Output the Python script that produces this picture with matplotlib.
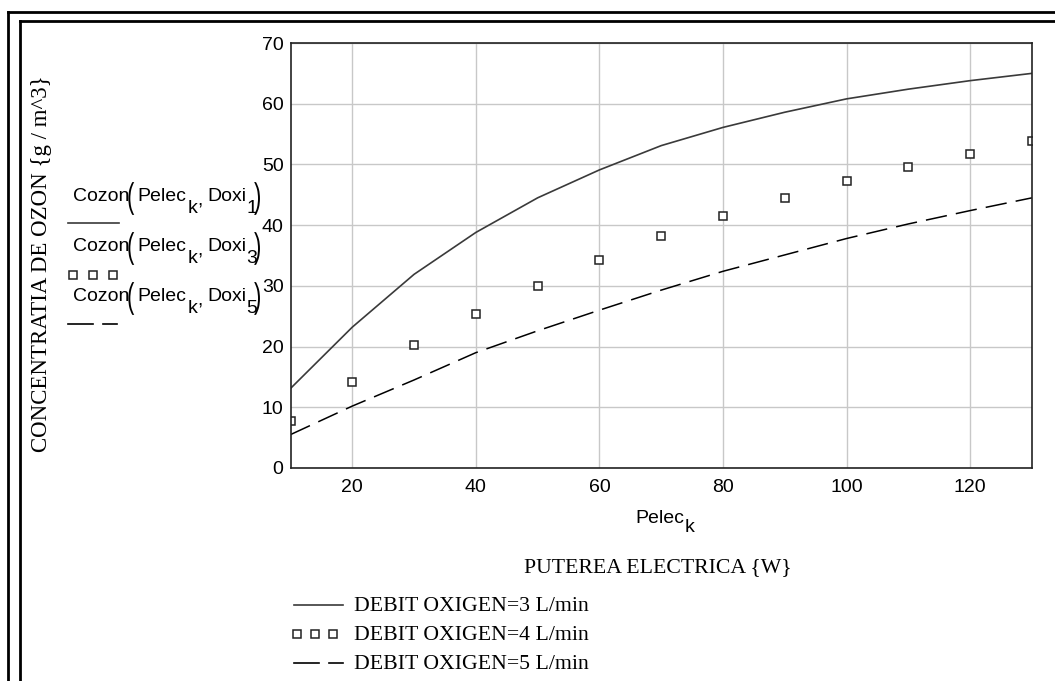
import matplotlib
matplotlib.use("Agg")
import matplotlib.pyplot as plt
import matplotlib.transforms as mtransforms
from matplotlib.textpath import TextPath
from matplotlib.patches import PathPatch
from matplotlib.font_manager import FontProperties

# --- date ---
pelec = [10, 20, 30, 40, 50, 60, 70, 80, 90, 100, 110, 120, 130]
cozon_doxi1 = [13.1, 23.2, 31.9, 38.8, 44.5, 49.1, 53.1, 56.1, 58.6, 60.8, 62.4, 63.8, 65.0]
cozon_doxi3 = [7.7, 14.2, 20.2, 25.3, 30.0, 34.2, 38.2, 41.5, 44.5, 47.3, 49.6, 51.7, 53.8]
cozon_doxi5 = [5.5, 10.2, 14.5, 19.0, 22.6, 26.0, 29.3, 32.4, 35.1, 37.8, 40.2, 42.4, 44.5]
x_ticks = [20, 40, 60, 80, 100, 120]
y_ticks = [0, 10, 20, 30, 40, 50, 60, 70]
doxi_index = ["1", "3", "5"]
legend_labels = ["DEBIT OXIGEN=3 L/min", "DEBIT OXIGEN=4 L/min", "DEBIT OXIGEN=5 L/min"]

W, H = 1055, 681
SANS = "Liberation Sans"
SERIF = "Liberation Serif"
FS = 14      # text Mathcad (Arial)
FS_SERIF = 15.7

fig = plt.figure(figsize=(W / 100, H / 100), dpi=100)

# strat de fundal in pixeli (chenare, texte, esantioane legenda)
bg = fig.add_axes([0, 0, 1, 1])
bg.set_xlim(0, W)
bg.set_ylim(H, 0)
bg.axis("off")

# chenar dublu
bg.plot([8, W], [12, 12], color="black", lw=2)
bg.plot([8, 8], [12, H], color="black", lw=2)
bg.plot([20, W], [21, 21], color="black", lw=2)
bg.plot([20, 20], [21, H], color="black", lw=2)

# === grafic principal ===
L, R, T, B = 290.5, 1032, 43, 468
ax = fig.add_axes([L / W, 1 - B / H, (R - L) / W, (B - T) / H])
ax.plot(pelec, cozon_doxi1, color="#3a3a3a", lw=1.2)
ax.plot(pelec, cozon_doxi3, ls="none", marker="s", ms=6, mfc="white",
        mec="#222222", mew=1.1)
ax.plot(pelec, cozon_doxi5, color="black", lw=1.1, dashes=(14, 6))
ax.set_xlim(10, 130)
ax.set_ylim(0, 70)
ax.set_xticks(x_ticks)
ax.set_yticks(y_ticks)
ax.grid(color="#c8c8c8", lw=1)
ax.set_axisbelow(True)
ax.tick_params(length=0, labelsize=FS)
ax.tick_params(axis="x", pad=8)
ax.tick_params(axis="y", pad=5)
for lab in ax.get_xticklabels() + ax.get_yticklabels():
    lab.set_fontfamily(SANS)
for s in ax.spines.values():
    s.set_linewidth(1.2)
    s.set_color("#222222")


def sans(x, y, s, size=FS):
    bg.text(x, y, s, ha="left", va="baseline", fontsize=size, family=SANS)


def paren(x, y, ch):
    # paranteza inalta si subtire, ca in Mathcad
    tp = TextPath((0, 0), ch, size=1, prop=FontProperties(family=SANS))
    tr = mtransforms.Affine2D().scale(22, -35.2).translate(x, y) + bg.transData
    bg.add_patch(PathPatch(tp, transform=tr, facecolor="black", edgecolor="none"))


# === etichete axe ===
bg.text(47, 264, "CONCENTRATIA DE OZON {g / m^3}", rotation=90, rotation_mode="anchor",
        ha="center", va="baseline", fontsize=16.5, family=SERIF)
sans(635, 523, "Pelec")
sans(684.5, 532.5, "k")
bg.text(658, 572.5, "PUTEREA ELECTRICA {W}", ha="center", va="baseline",
        fontsize=FS_SERIF, family=SERIF)

# === legenda din stanga (stil Mathcad) ===
for i, idx in enumerate(doxi_index):
    yb = 201 + i * 50
    sans(72.5, yb, "Cozon")
    paren(127, yb + 6.6, "(")
    sans(137, yb, "Pelec")
    sans(187.5, yb + 12, "k")
    sans(197.5, yb + 4, ",")
    sans(207, yb, "Doxi")
    sans(246.5, yb + 12, idx)
    paren(254, yb + 6.6, ")")
bg.plot([68, 119], [223, 223], color="#3a3a3a", lw=1.2)
bg.plot([73, 93, 113], [275, 275, 275], ls="none", marker="s", ms=5.5, mfc="white",
        mec="#222222", mew=1.1)
bg.plot([68, 93], [324, 324], color="black", lw=1.2)
bg.plot([103, 117], [324, 324], color="black", lw=1.2)

# === legenda de jos ===
bg.plot([294, 343], [605, 605], color="#3a3a3a", lw=1.2)
bg.plot([297, 315, 333], [634, 634, 634], ls="none", marker="s", ms=5.5, mfc="white",
        mec="#222222", mew=1.1)
bg.plot([294, 319], [663, 663], color="black", lw=1.2)
bg.plot([329, 343], [663, 663], color="black", lw=1.2)
for i, txt in enumerate(legend_labels):
    bg.text(354, 611 + i * 29.2, txt, ha="left", va="baseline",
            fontsize=FS_SERIF, family=SERIF)

fig.savefig("out.png", dpi=100)
